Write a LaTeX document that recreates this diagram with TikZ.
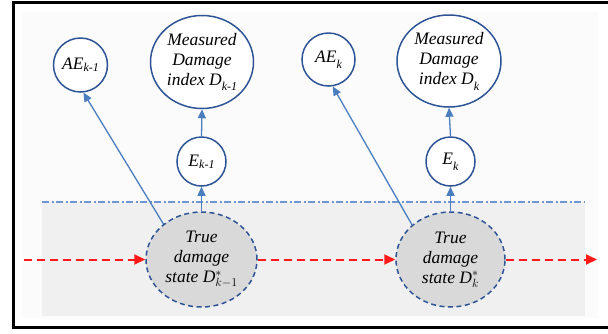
\documentclass[tikz,border=0pt]{standalone}
\usepackage{fontspec}
\setmainfont{Liberation Serif}
\usetikzlibrary{shapes.geometric,arrows.meta}
\definecolor{nodeblue}{RGB}{46,84,150}
\definecolor{arrblue}{RGB}{74,126,190}
\definecolor{dashblue}{RGB}{110,150,212}
\definecolor{bandgray}{RGB}{240,240,240}
\definecolor{panelgray}{RGB}{251,251,251}
\definecolor{truegray}{RGB}{217,217,217}
\definecolor{redline}{RGB}{255,25,25}
\newcommand\lowsub[2]{\raisebox{#1}{\fontsize{12}{12}\selectfont #2}}
\tikzset{
  x=1pt,y=-1pt,
  obs/.style={ellipse,draw=nodeblue,line width=1.5pt,inner sep=0pt,fill=white},
  hid/.style={ellipse,draw=nodeblue,line width=1.5pt,inner sep=0pt,fill=truegray,dash pattern=on 5pt off 3.5pt},
  txt/.style={inner sep=0pt,align=center,font=\fontsize{17.5}{20}\selectfont\itshape},
  barr/.style={draw=arrblue,line width=1.3pt,-{Triangle[length=9pt,width=8pt]}},
  rarr/.style={draw=redline,line width=2pt,dash pattern=on 8pt off 5pt,-{Triangle[length=11pt,width=10pt,color=redline,fill=redline]}},
}
\begin{document}
\begin{tikzpicture}
\useasboundingbox (0,0) rectangle (608,333);
\clip (0,0) rectangle (608,333);
% panel and band
\fill[panelgray] (22,12) rectangle (598,318);
\fill[bandgray] (42,202) rectangle (585,316);
\coordinate (dl) at (42,202);
\coordinate (dr) at (585,202);
\draw[dashblue,line width=1.1pt,dash pattern=on 7pt off 2.5pt on 2pt off 2.5pt] (dl) -- (dr);
% outer frame
\draw[black,line width=2.5pt] (13.5,2.5) rectangle (620,327.5);

% nodes, left group
\node[obs,minimum width=54pt,minimum height=54pt] (ae1) at (80.5,65) {};
\node[txt] (ae1t) at (ae1) {AE\lowsub{-2pt}{k-1}};
\node[obs,minimum width=103pt,minimum height=93pt] (m1) at (202,62) {};
\node[txt] (m1t) at (m1) {Measured\\Damage\\index D\lowsub{-5pt}{k-1}};
\node[obs,minimum width=49pt,minimum height=49pt] (e1) at (201.5,161.5) {};
\node[txt] (e1t) at (e1) {E\lowsub{-2pt}{k-1}};
\node[hid,minimum width=111pt,minimum height=95pt] (t1) at (201.5,259.5) {};
\node[txt] (t1t) at (t1) {True\\damage\\state D$^{*}_{k-1}$};

% nodes, right group
\node[obs,minimum width=53pt,minimum height=53pt] (ae2) at (328.5,59.5) {};
\node[txt] (ae2t) at (ae2) {AE\lowsub{-6pt}{k}};
\node[obs,minimum width=104pt,minimum height=92pt] (m2) at (449,61) {};
\node[txt] (m2t) at (m2) {Measured\\Damage\\index D\lowsub{-6pt}{k}};
\node[obs,minimum width=49pt,minimum height=49pt] (e2) at (450.5,161.5) {};
\node[txt] (e2t) at (e2) {E\lowsub{-6pt}{k}};
\node[hid,minimum width=109pt,minimum height=95pt] (t2) at (450.5,259.5) {};
\node[txt] (t2t) at (t2) {True\\damage\\state D$^{*}_{k}$};

% blue connectors
\draw[barr] (e1.north) -- (m1.south);
\draw[barr] (t1.north) -- (e1.south);
\draw[barr] (t1.137) -- (ae1.-84);
\draw[barr] (e2.north) -- (m2.south);
\draw[barr] (t2.north) -- (e2.south);
\draw[barr] (t2.138) -- (ae2.-81);

% red dashed chain
\coordinate (rs) at (24,259.5);
\coordinate (re) at (597,259.5);
\draw[rarr] (rs) -- (t1.west);
\draw[rarr] (t1.east) -- (t2.west);
\draw[rarr] (t2.east) -- (re);
\end{tikzpicture}
\end{document}
